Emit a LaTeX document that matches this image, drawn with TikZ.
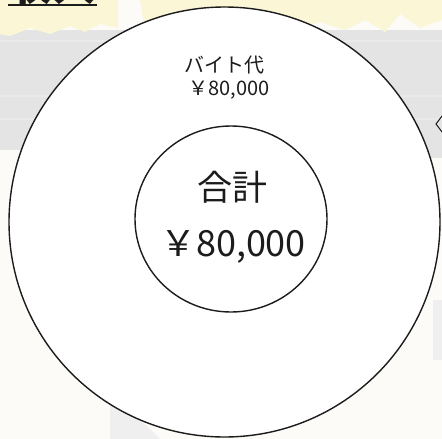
\documentclass[tikz,border=0pt]{standalone}
\usepackage{fontspec}
\newfontfamily\jp{Noto Sans CJK JP}
\definecolor{bgwhite}{HTML}{FCFBF8}
\definecolor{bggray}{HTML}{E4E4E4}
\definecolor{bgstripe}{HTML}{EAEAEA}
\definecolor{bgyellow}{HTML}{FAF6D6}
\definecolor{bglight}{HTML}{EFEFEF}
\definecolor{ink}{HTML}{1C1C1C}
\tikzset{
  ring/.style={draw=ink, line width=1.4pt, fill=white},
  lbl/.style={inner sep=0pt, text=ink, font=\jp},
}
\begin{document}
\begin{tikzpicture}[x=1pt,y=-1pt]
\useasboundingbox (0,0) rectangle (442,439);
\clip (0,0) rectangle (442,439);
% background
\fill[bgwhite] (0,0) rectangle (442,439);
\fill[bggray] (0,30) rectangle (442,150);
\fill[bgstripe] (0,40) rectangle (442,42);
\fill[bgstripe] (0,95) rectangle (442,97);
\fill[bgstripe] (0,118) rectangle (442,120);
\fill[bggray] (400,150) rectangle (442,158);
\fill[bgyellow] (0,0) -- (118,0) -- (118,28) -- (100,24) -- (85,32) -- (70,26) -- (50,34) -- (30,28) -- (10,36) -- (0,34) -- cycle;
\fill[bgyellow] (140,0) -- (442,0) -- (442,20) -- (420,28) -- (400,14) -- (385,32) -- (365,20) -- (345,30) -- (320,22) -- (300,28) -- (270,20) -- (240,28) -- (210,22) -- (180,30) -- (160,24) -- (145,30) -- cycle;
\fill[bglight] (433,300) rectangle (442,360);
\fill[bglight] (110,405) -- (125,405) -- (160,439) -- (110,439) -- cycle;
% title (cut off at the top, as in the reference)
\node[lbl, font=\jp\bfseries\fontsize{44}{44}\selectfont, anchor=base west] (title) at (8,1) {収入};
\draw[ink, line width=2pt] (8,5) -- (97,5);
% fragment at right edge
\draw[ink, line width=1pt] (442,116) -- (436,124) -- (442,132);
% circles
\draw[ring] (224.5,222) ellipse [x radius=215.5, y radius=215];
\draw[ring] (231,219) ellipse [x radius=96, y radius=93];
% labels
\node[lbl, font=\jp\fontsize{20}{20}\selectfont] (item) at (224,65) {バイト代};
\node[lbl, font=\jp\fontsize{20}{20}\selectfont] (itemv) at (229,90) {￥80,000};
\node[lbl, font=\jp\fontsize{35}{35}\selectfont] (total) at (232,187) {合計};
\node[lbl, font=\jp\fontsize{36}{36}\selectfont] (totalv) at (233,247) {￥80,000};
\end{tikzpicture}
\end{document}
